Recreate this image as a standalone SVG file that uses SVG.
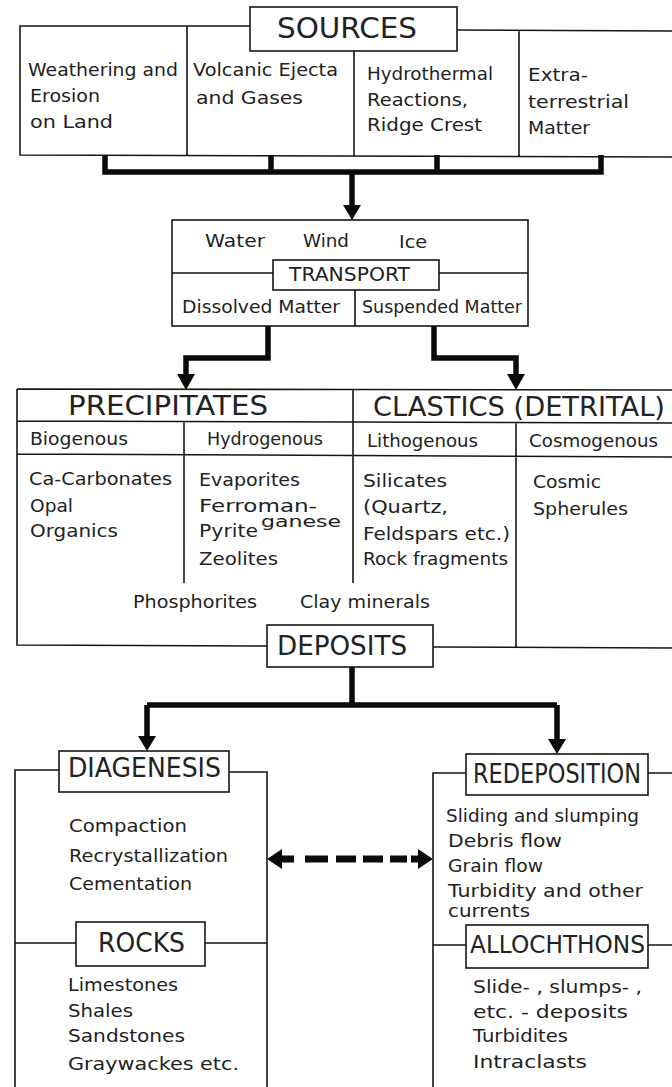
<svg xmlns="http://www.w3.org/2000/svg" width="672" height="1087" viewBox="0 0 672 1087">
<style>
.ln{fill:none;stroke:#161616;stroke-width:1.6}
.bx{fill:#fff;stroke:#161616;stroke-width:1.6}
.th{fill:none;stroke:#0a0a0a;stroke-width:5.5;stroke-linejoin:miter}
.ah{fill:#0a0a0a}
text{font-family:"DejaVu Sans","Liberation Sans",sans-serif;fill:#222;font-size:18px}
.sm{font-size:17px}
.h{font-size:27px}
.m{font-size:20px}
</style>
<rect width="672" height="1087" fill="#fff"/>

<g id="connectors">
  <path class="th" d="M105,155 V172 H601 V155 M271,155 V172 M437,155 V172 M352,172 V206"/>
  <polygon class="ah" points="343,205 361,205 352,220"/>
  <path class="th" d="M268,326 V358 H186 V376"/>
  <polygon class="ah" points="177,374 195,374 186,390"/>
  <path class="th" d="M434,326 V358 H516 V376"/>
  <polygon class="ah" points="507,374 525,374 516,390"/>
  <path class="th" d="M352,667 V705 M147,705 H557 M147,705 V738 M557,705 V741"/>
  <polygon class="ah" points="138,736 156,736 147,751"/>
  <polygon class="ah" points="548,739 566,739 557,754"/>
  <path fill="none" stroke="#0a0a0a" stroke-width="7" d="M305,859 H328 M336,859 H356 M363,859 H383 M390,859 H407"/>
  <polygon class="ah" points="267,859 282,849 282,855.5 294,855.5 294,862.5 282,862.5 282,869"/>
  <polygon class="ah" points="433,859 418,849 418,855.5 411,855.5 411,862.5 418,862.5 418,869"/>
</g>

<g id="sources">
  <path class="ln" d="M250,26 H20 V155 L672,157 M457,30 L672,31 M187,26 V155 M354,51 V156 M519,30 V157"/>
  <rect class="bx" x="250" y="7" width="207" height="44"/>
  <text class="h" x="277" y="38" textLength="140" lengthAdjust="spacingAndGlyphs" style="font-size:28px">SOURCES</text>
  <text x="28" y="76" textLength="150" lengthAdjust="spacingAndGlyphs">Weathering and</text>
  <text x="30" y="102" textLength="70" lengthAdjust="spacingAndGlyphs">Erosion</text>
  <text x="30" y="128" textLength="83" lengthAdjust="spacingAndGlyphs">on Land</text>
  <text x="193" y="76" textLength="145" lengthAdjust="spacingAndGlyphs">Volcanic Ejecta</text>
  <text x="196" y="104" textLength="107" lengthAdjust="spacingAndGlyphs">and Gases</text>
  <text x="367" y="80" textLength="126" lengthAdjust="spacingAndGlyphs">Hydrothermal</text>
  <text x="367" y="106" textLength="101" lengthAdjust="spacingAndGlyphs">Reactions,</text>
  <text x="367" y="131" textLength="115" lengthAdjust="spacingAndGlyphs">Ridge Crest</text>
  <text x="528" y="81" textLength="60" lengthAdjust="spacingAndGlyphs">Extra-</text>
  <text x="528" y="108" textLength="101" lengthAdjust="spacingAndGlyphs">terrestrial</text>
  <text x="528" y="134" textLength="62" lengthAdjust="spacingAndGlyphs">Matter</text>
</g>

<g id="transport">
  <rect class="bx" x="172" y="220" width="356" height="106"/>
  <path class="ln" d="M172,273 H273 M439,273 H528 M355,290 V326"/>
  <rect class="bx" x="273" y="260" width="166" height="30"/>
  <text x="205" y="247" textLength="60" lengthAdjust="spacingAndGlyphs">Water</text>
  <text x="303" y="247" textLength="46" lengthAdjust="spacingAndGlyphs">Wind</text>
  <text x="399" y="248" textLength="28" lengthAdjust="spacingAndGlyphs">Ice</text>
  <text class="m" x="289" y="281" textLength="121" lengthAdjust="spacingAndGlyphs">TRANSPORT</text>
  <text x="182" y="313" textLength="158" lengthAdjust="spacingAndGlyphs">Dissolved Matter</text>
  <text x="362" y="313" textLength="160" lengthAdjust="spacingAndGlyphs">Suspended Matter</text>
</g>

<g id="precipitates">
  <path class="ln" d="M17,389 L353,389.5 M17,389 V645 L267,646 M17,421 L353,422 M17,454 L353,455.5 M184,421 V583 M353,389 V583"/>
  <text class="h" x="68" y="415" textLength="200" lengthAdjust="spacingAndGlyphs">PRECIPITATES</text>
  <text class="sm" x="30" y="445" textLength="98" lengthAdjust="spacingAndGlyphs">Biogenous</text>
  <text class="sm" x="207" y="445" textLength="116" lengthAdjust="spacingAndGlyphs">Hydrogenous</text>
  <text x="29" y="485" textLength="143" lengthAdjust="spacingAndGlyphs">Ca-Carbonates</text>
  <text x="30" y="512" textLength="43" lengthAdjust="spacingAndGlyphs">Opal</text>
  <text x="30" y="537" textLength="88" lengthAdjust="spacingAndGlyphs">Organics</text>
  <text x="199" y="486" textLength="101" lengthAdjust="spacingAndGlyphs">Evaporites</text>
  <text x="199" y="512" textLength="118" lengthAdjust="spacingAndGlyphs">Ferroman-</text>
  <text x="261" y="527" textLength="80" lengthAdjust="spacingAndGlyphs" style="font-size:15px">ganese</text>
  <text x="199" y="537" textLength="59" lengthAdjust="spacingAndGlyphs">Pyrite</text>
  <text x="199" y="565" textLength="79" lengthAdjust="spacingAndGlyphs">Zeolites</text>
  <text x="133" y="608" textLength="124" lengthAdjust="spacingAndGlyphs">Phosphorites</text>
  <text x="300" y="608" textLength="130" lengthAdjust="spacingAndGlyphs">Clay minerals</text>
</g>

<g id="clastics">
  <path class="ln" d="M353,389.5 L672,390 M353,422 L672,423 M353,455.5 L672,457 M516,422 V647 M433,647 L672,648"/>
  <text class="h" x="373" y="416" textLength="292" lengthAdjust="spacingAndGlyphs">CLASTICS  (DETRITAL)</text>
  <text class="sm" x="367" y="447" textLength="111" lengthAdjust="spacingAndGlyphs">Lithogenous</text>
  <text class="sm" x="529" y="447" textLength="129" lengthAdjust="spacingAndGlyphs">Cosmogenous</text>
  <text x="363" y="487" textLength="84" lengthAdjust="spacingAndGlyphs">Silicates</text>
  <text x="363" y="513" textLength="85" lengthAdjust="spacingAndGlyphs">(Quartz,</text>
  <text x="363" y="540" textLength="147" lengthAdjust="spacingAndGlyphs">Feldspars etc.)</text>
  <text x="363" y="565" textLength="145" lengthAdjust="spacingAndGlyphs">Rock fragments</text>
  <text x="533" y="488" textLength="68" lengthAdjust="spacingAndGlyphs">Cosmic</text>
  <text x="533" y="515" textLength="95" lengthAdjust="spacingAndGlyphs">Spherules</text>
</g>

<g id="deposits">
  <rect class="bx" x="267" y="625" width="166" height="42"/>
  <text class="h" x="277" y="655" textLength="130" lengthAdjust="spacingAndGlyphs">DEPOSITS</text>
</g>

<g id="diagenesis">
  <path class="ln" d="M59,770 H15 V1087 M229,772 H267 V1087"/>
  <rect class="bx" x="59" y="751" width="170" height="41"/>
  <text class="h" x="68" y="777" textLength="153" lengthAdjust="spacingAndGlyphs" style="font-size:26px">DIAGENESIS</text>
  <text x="69" y="832" textLength="118" lengthAdjust="spacingAndGlyphs">Compaction</text>
  <text x="69" y="862" textLength="159" lengthAdjust="spacingAndGlyphs">Recrystallization</text>
  <text x="69" y="890" textLength="123" lengthAdjust="spacingAndGlyphs">Cementation</text>
</g>

<g id="rocks">
  <path class="ln" d="M15,943 H76 M205,943 H267"/>
  <rect class="bx" x="76" y="922" width="129" height="44"/>
  <text class="h" x="98" y="952" textLength="87" lengthAdjust="spacingAndGlyphs" style="font-size:26px">ROCKS</text>
  <text x="68" y="991" textLength="110" lengthAdjust="spacingAndGlyphs">Limestones</text>
  <text x="68" y="1017" textLength="65" lengthAdjust="spacingAndGlyphs">Shales</text>
  <text x="68" y="1042" textLength="117" lengthAdjust="spacingAndGlyphs">Sandstones</text>
  <text x="68" y="1070" textLength="171" lengthAdjust="spacingAndGlyphs">Graywackes etc.</text>
</g>

<g id="redeposition">
  <path class="ln" d="M466,773 H433 V1087 M648,773 H672"/>
  <rect class="bx" x="466" y="754" width="182" height="41"/>
  <text class="h" x="473" y="783" textLength="168" lengthAdjust="spacingAndGlyphs" style="font-size:26px">REDEPOSITION</text>
  <text x="446" y="822" textLength="193" lengthAdjust="spacingAndGlyphs">Sliding and slumping</text>
  <text x="448" y="847" textLength="114" lengthAdjust="spacingAndGlyphs">Debris flow</text>
  <text x="448" y="872" textLength="95" lengthAdjust="spacingAndGlyphs">Grain flow</text>
  <text x="448" y="897" textLength="195" lengthAdjust="spacingAndGlyphs">Turbidity and other</text>
  <text x="448" y="917" textLength="82" lengthAdjust="spacingAndGlyphs">currents</text>
</g>

<g id="allochthons">
  <path class="ln" d="M433,945 H466 M648,945 H672"/>
  <rect class="bx" x="466" y="925" width="182" height="43"/>
  <text class="h" x="470" y="953" textLength="175" lengthAdjust="spacingAndGlyphs" style="font-size:25px">ALLOCHTHONS</text>
  <text x="473" y="993" textLength="169" lengthAdjust="spacingAndGlyphs">Slide- , slumps- ,</text>
  <text x="473" y="1018" textLength="155" lengthAdjust="spacingAndGlyphs">etc. - deposits</text>
  <text x="473" y="1042" textLength="95" lengthAdjust="spacingAndGlyphs">Turbidites</text>
  <text x="473" y="1068" textLength="114" lengthAdjust="spacingAndGlyphs">Intraclasts</text>
</g>
</svg>
